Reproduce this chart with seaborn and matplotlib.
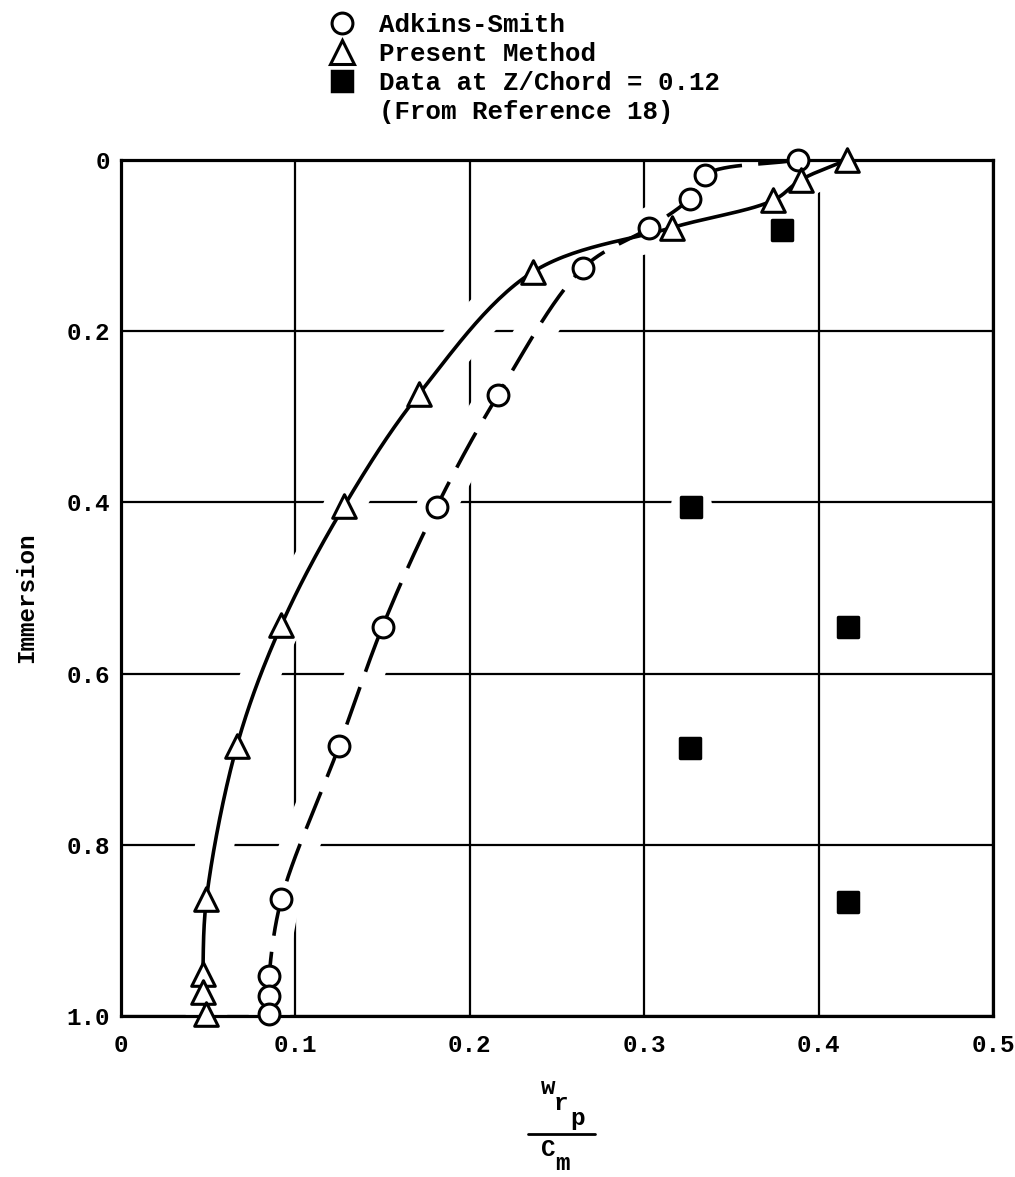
import numpy as np
import pandas as pd
import matplotlib
matplotlib.use("Agg")
import matplotlib.pyplot as plt
from matplotlib.lines import Line2D
import seaborn as sns

# --- data -------------------------------------------------------------
adkins_immersion = [0.0, 0.017, 0.045, 0.079, 0.126, 0.275, 0.405, 0.545, 0.685, 0.863, 0.953, 0.977, 0.998]
adkins_wrp = [0.388, 0.335, 0.326, 0.303, 0.265, 0.216, 0.181, 0.150, 0.125, 0.092, 0.085, 0.085, 0.085]

present_immersion = [0.0, 0.023, 0.047, 0.079, 0.131, 0.273, 0.404, 0.543, 0.684, 0.863, 0.951, 0.972, 0.998]
present_wrp = [0.416, 0.390, 0.374, 0.316, 0.236, 0.171, 0.128, 0.092, 0.0665, 0.049, 0.047, 0.047, 0.049]

data_immersion = [0.082, 0.405, 0.545, 0.687, 0.867]
data_wrp = [0.379, 0.327, 0.417, 0.326, 0.417]

x_ticks = [0.0, 0.1, 0.2, 0.3, 0.4, 0.5]
x_tick_labels = ["0", "0.1", "0.2", "0.3", "0.4", "0.5"]
y_ticks = [0.0, 0.2, 0.4, 0.6, 0.8, 1.0]
y_tick_labels = ["0", "0.2", "0.4", "0.6", "0.8", "1.0"]

legend_labels = ["Adkins-Smith", "Present Method", "Data at Z/Chord = 0.12", "(From Reference 18)"]

# --- style --------------------------------------------------------------
sns.set_theme(style="white")
plt.rcParams["font.family"] = ["Liberation Mono", "DejaVu Sans Mono"]
plt.rcParams["font.weight"] = "bold"
INK = "black"

W, H = 1015, 1177
fig = plt.figure(figsize=(W / 100, H / 100), dpi=100)
ax = fig.add_axes([121 / W, 1 - 1016 / H, (993 - 121) / W, (1016 - 160) / H])


def faired_curve(xs, ys, n=30, alpha=0.5):
    """Centripetal Catmull-Rom curve through the points (in plot-proportional units)."""
    sx, sy = 872 / 0.5, 857 / 1.0
    P = np.column_stack([np.asarray(xs) * sx, np.asarray(ys) * sy])
    P = np.vstack([2 * P[0] - P[1], P, 2 * P[-1] - P[-2]])
    pts = []
    for i in range(1, len(P) - 2):
        p0, p1, p2, p3 = P[i - 1], P[i], P[i + 1], P[i + 2]
        t0 = 0.0
        t1 = t0 + np.linalg.norm(p1 - p0) ** alpha
        t2 = t1 + np.linalg.norm(p2 - p1) ** alpha
        t3 = t2 + np.linalg.norm(p3 - p2) ** alpha
        t = np.linspace(t1, t2, n, endpoint=False)[:, None]
        A1 = (t1 - t) / (t1 - t0) * p0 + (t - t0) / (t1 - t0) * p1
        A2 = (t2 - t) / (t2 - t1) * p1 + (t - t1) / (t2 - t1) * p2
        A3 = (t3 - t) / (t3 - t2) * p2 + (t - t2) / (t3 - t2) * p3
        B1 = (t2 - t) / (t2 - t0) * A1 + (t - t0) / (t2 - t0) * A2
        B2 = (t3 - t) / (t3 - t1) * A2 + (t - t1) / (t3 - t1) * A3
        pts.append((t2 - t) / (t2 - t1) * B1 + (t - t1) / (t2 - t1) * B2)
    pts.append(P[-2][None, :])
    C = np.vstack(pts)
    return pd.DataFrame({"wrp": C[:, 0] / sx, "immersion": C[:, 1] / sy})


adk_curve = faired_curve(adkins_wrp, adkins_immersion)
pm_curve = faired_curve(present_wrp, present_immersion)

# white clearing band under curves and symbols (breaks the grid around them)
for curve in (adk_curve, pm_curve):
    sns.lineplot(data=curve, x="wrp", y="immersion", sort=False, estimator=None,
                 color="white", linewidth=28, ax=ax, zorder=1.8,
                 solid_capstyle="round")
clear_pts = pd.DataFrame({
    "wrp": adkins_wrp + present_wrp + data_wrp,
    "immersion": adkins_immersion + present_immersion + data_immersion,
})
sns.scatterplot(data=clear_pts, x="wrp", y="immersion", marker="o", s=30 ** 2,
                color="white", edgecolor="white", linewidth=0, ax=ax, zorder=1.8)

# faired curves
sns.lineplot(data=pm_curve, x="wrp", y="immersion", sort=False, estimator=None,
             color=INK, linewidth=2.6, ax=ax, zorder=3)
sns.lineplot(data=adk_curve, x="wrp", y="immersion", sort=False, estimator=None,
             color=INK, linewidth=2.6, ax=ax, zorder=3, dashes=False)
ax.lines[-1].set_dashes((11, 4.5))

# symbols
adk_df = pd.DataFrame({"wrp": adkins_wrp, "immersion": adkins_immersion})
pm_df = pd.DataFrame({"wrp": present_wrp, "immersion": present_immersion})
dat_df = pd.DataFrame({"wrp": data_wrp, "immersion": data_immersion})
sns.scatterplot(data=adk_df, x="wrp", y="immersion", marker="o", s=15 ** 2,
                color="white", edgecolor=INK, linewidth=2.2, ax=ax, zorder=4, clip_on=False)
sns.scatterplot(data=pm_df, x="wrp", y="immersion", marker="^", s=17 ** 2,
                color="white", edgecolor=INK, linewidth=2.2, ax=ax, zorder=4, clip_on=False)
sns.scatterplot(data=dat_df, x="wrp", y="immersion", marker="s", s=14 ** 2,
                color=INK, edgecolor=INK, linewidth=2.5, ax=ax, zorder=4, clip_on=False)
for coll in ax.collections[-1:]:
    coll.set_joinstyle("round")

# axes
ax.set_xlim(0, 0.5)
ax.set_ylim(1.0, 0.0)
ax.set_xticks(x_ticks)
ax.set_xticklabels(x_tick_labels)
ax.set_yticks(y_ticks)
ax.set_yticklabels(y_tick_labels)
ax.tick_params(axis="both", length=0, labelsize=17.5, colors=INK)
ax.tick_params(axis="x", pad=13)
ax.tick_params(axis="y", pad=8)
ax.grid(True, color=INK, linewidth=1.6)
ax.set_axisbelow(True)
for sp in ax.spines.values():
    sp.set_visible(True)
    sp.set_color(INK)
    sp.set_linewidth(2.3)
    sp.set_zorder(2.5)
ax.set_xlabel("")
ax.set_ylabel("")

# y-axis title
fig.text(27 / W, 1 - 598 / H, "Immersion", rotation=90, ha="center", va="center",
         fontsize=17.5, color=INK)

# x-axis title: w_r_p over C_m
def ftext(px, py, s, size=17.5):
    fig.text(px / W, 1 - py / H, s, ha="center", va="center", fontsize=size, color=INK)

ftext(548, 1087, "w")
ftext(561, 1103, "r")
ftext(577, 1119, "p")
fig.add_artist(Line2D([528 / W, 595 / W], [1 - 1134 / H] * 2, color=INK, linewidth=2.0))
ftext(548, 1150, "C")
ftext(562, 1163, "m")

# legend
handles = [
    Line2D([], [], linestyle="none", marker="o", markersize=15, markerfacecolor="white",
           markeredgecolor=INK, markeredgewidth=2.2),
    Line2D([], [], linestyle="none", marker="^", markersize=17, markerfacecolor="white",
           markeredgecolor=INK, markeredgewidth=2.2),
    Line2D([], [], linestyle="none", marker="s", markersize=14, markerfacecolor=INK,
           markeredgecolor=INK, markeredgewidth=2.5),
    Line2D([], [], linestyle="none"),
]
leg = fig.legend(handles, legend_labels, loc="upper left",
                 bbox_to_anchor=(329 / W, 1 - 13 / H), bbox_transform=fig.transFigure,
                 frameon=False, fontsize=18.5, handlelength=1.0, handletextpad=0.95,
                 labelspacing=0.2, borderpad=0, borderaxespad=0)
for t in leg.get_texts():
    t.set_color(INK)

fig.savefig("out.png", dpi=100, facecolor="white")
